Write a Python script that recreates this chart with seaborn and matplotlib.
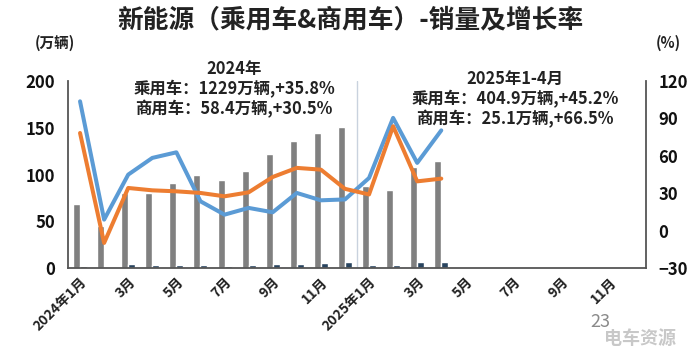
import numpy as np
import pandas as pd
import matplotlib
matplotlib.use('Agg')
import matplotlib.pyplot as plt
import seaborn as sns

# - data - #
months = ['2024-01', '2024-02', '2024-03', '2024-04', '2024-05', '2024-06',
          '2024-07', '2024-08', '2024-09', '2024-10', '2024-11', '2024-12',
          '2025-01', '2025-02', '2025-03', '2025-04', '2025-05', '2025-06',
          '2025-07', '2025-08', '2025-09', '2025-10', '2025-11', '2025-12']
pv_sales = [68.5, 45, 80, 80, 90.5, 99, 94, 104, 122, 136, 144, 151,
            88, 83.5, 108, 114]                     # 乘用车 (万辆)
cv_sales = [1.8, 1.1, 3.9, 2.9, 2.9, 3.2, 2.5, 3.2, 3.9, 4.3, 5.0, 6.8,
            3.2, 3.6, 6.0, 6.0]                     # 商用车 (万辆)
growth_blue = [103.7, 8.8, 44.9, 58.3, 62.8, 23.5, 12.8, 18.2, 14.7, 30.2, 24.3, 25.0,
               42.2, 90.4, 54.3, 80.4]             # %
growth_orange = [78.3, -9.9, 34.2, 32.3, 31.5, 30.2, 27.5, 30.7, 43.0, 50.3, 48.9, 33.5,
                 29.0, 83.7, 39.5, 41.7]           # %
tick_labels = ['2024年1月', '3月', '5月', '7月', '9月', '11月', '2025年1月', '3月', '5月', '7月', '9月', '11月']

note_2024 = '2024年\n乘用车：1229万辆,+35.8%\n商用车：58.4万辆,+30.5%'
note_2025 = '2025年1-4月\n乘用车：404.9万辆,+45.2%\n商用车：25.1万辆,+66.5%'

sns.set_style('white')
plt.rcParams['font.family'] = ['Noto Sans CJK SC', 'DejaVu Sans']

n = len(pv_sales)
df = pd.DataFrame({
    'month': months[:n] * 2,
    'sales': pv_sales + cv_sales,
    'type': ['乘用车'] * n + ['商用车'] * n,
})

fig = plt.figure(figsize=(7, 3.59), dpi=100)
ax = fig.add_axes([68 / 700, 1 - 268 / 359, 578 / 700, 187 / 359])

sns.barplot(data=df, x='month', y='sales', hue='type', order=months, errorbar=None,
            palette=['#808080', '#1f4468'], width=0.58, legend=False, ax=ax)
ax.set_ylim(0, 200)
ax.set_yticks(np.arange(0, 201, 50))
ax.set_xlim(-0.5, len(months) - 0.5)
ax.axvline(11.5, color='#c9d2de', lw=1, zorder=0)

ax2 = ax.twinx()
idx = np.arange(n)
sns.lineplot(x=idx, y=growth_blue, color='#5b9bd5', lw=2.9, ax=ax2)
sns.lineplot(x=idx, y=growth_orange, color='#ed7d31', lw=2.9, ax=ax2)
ax2.set_ylim(-30, 120)
ax2.set_yticks(np.arange(-30, 121, 30))

ax.set_xticks(np.arange(0, len(months), 2))
ax.set_xticklabels(tick_labels, rotation=45, ha='right', rotation_mode='anchor',
                   fontsize=10, fontweight='bold', color='#222222')
ax.set_xlabel('')
ax.set_ylabel('')
ax2.set_ylabel('')
ax.tick_params(axis='y', length=0, pad=9, labelsize=12, labelcolor='#111111')
ax.tick_params(axis='x', length=0, pad=5)
ax2.tick_params(axis='y', length=0, pad=9, labelsize=12, labelcolor='#111111')
for t in ax.get_yticklabels() + ax2.get_yticklabels():
    t.set_fontweight('bold')

for a in (ax, ax2):
    a.spines['top'].set_visible(False)
    for s in ('left', 'bottom', 'right'):
        a.spines[s].set_color('#555555')
        a.spines[s].set_linewidth(1.3)
ax.spines['right'].set_visible(False)
ax2.spines['left'].set_visible(False)
ax2.spines['bottom'].set_visible(False)

fig.text(0.5, 1 - 20 / 359, '新能源（乘用车&商用车）-销量及增长率', ha='center', va='center',
         fontsize=18.5, fontweight='bold', color='#222222')
fig.text(35 / 700, 1 - 43 / 359, '(万辆)', ha='left', va='center', fontsize=10.5,
         fontweight='bold', color='#222222')
fig.text(668 / 700, 1 - 43 / 359, '(%)', ha='center', va='center', fontsize=10.5,
         fontweight='bold', color='#222222')
fig.text(234 / 700, 1 - 89 / 359, note_2024, ha='center', va='center', fontsize=11.8,
         fontweight='bold', color='#222222', linespacing=1.15)
fig.text(515 / 700, 1 - 99 / 359, note_2025, ha='center', va='center', fontsize=11.8,
         fontweight='bold', color='#222222', linespacing=1.15)
fig.text(600 / 700, 1 - 322 / 359, '23', ha='center', va='center', fontsize=13, color='#8a8a8a')
fig.text(640 / 700, 1 - 338 / 359, '电车资源', ha='center', va='center', fontsize=13,
         fontweight='bold', color='#c8c8c8')

fig.savefig('out.png', dpi=100)
